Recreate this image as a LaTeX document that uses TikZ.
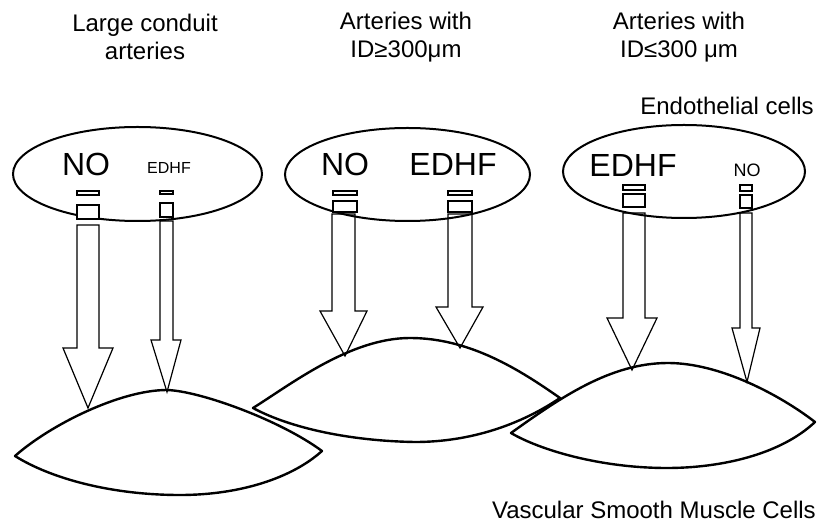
\documentclass[tikz,border=0pt]{standalone}
\usepackage{fontspec}
\setmainfont{Liberation Sans}
\usetikzlibrary{shapes.geometric}
\begin{document}
\begin{tikzpicture}[x=0.75pt,y=-0.75pt,
  endo/.style={draw, line width=1.5pt, ellipse, inner sep=0pt},
  cellline/.style={draw, line width=1.8pt, line join=round},
  blk/.style={draw, line width=0.9pt, line join=miter},
  barbox/.style={draw, line width=0.9pt, fill=white},
  ttl/.style={align=center, inner sep=0pt, font=\fontsize{18}{20.5}\selectfont},
  lbl/.style={inner sep=0pt, font=\fontsize{18}{20}\selectfont},
  bigm/.style={inner sep=0pt, font=\fontsize{24}{28}\selectfont},
  smallm/.style={inner sep=0pt, font=\fontsize{12}{14}\selectfont}]
\useasboundingbox (0,0) rectangle (817,523);

% titles
\node[ttl] (t1) at (145,37) {Large conduit\\arteries};
\node[ttl] (t2) at (406,37) {Arteries with\\ID≥300μm};
\node[ttl] (t3) at (679,37) {Arteries with\\ID≤300 μm};
\node[lbl, anchor=east] (endolbl) at (814,106) {Endothelial cells};
\node[lbl, anchor=east] (vsmclbl) at (816,510) {Vascular Smooth Muscle Cells};

% endothelial cells
\node[endo, minimum width=186.75pt, minimum height=70.5pt] (e1) at (137.5,174) {};
\node[endo, minimum width=183.75pt, minimum height=69.75pt] (e2) at (407.5,174.5) {};
\node[endo, minimum width=181.5pt, minimum height=69.75pt] (e3) at (684,171.5) {};

% labels in the cells
\node[bigm] (no1) at (86,164) {NO};
\node[smallm] (edhf1) at (169,168) {EDHF};
\node[bigm] (no2) at (345,164) {NO};
\node[bigm] (edhf2) at (453,164) {EDHF};
\node[bigm] (edhf3) at (633,165) {EDHF};
\node[inner sep=0pt, font=\fontsize{13.5}{16}\selectfont] (no3) at (747,170) {NO};

% receptor bars
\draw[barbox] (77,191) rectangle (99,195);
\draw[barbox] (77,205) rectangle (99,219);
\draw[barbox] (160,191) rectangle (173,194);
\draw[barbox] (160,203) rectangle (173,217);
\draw[barbox] (333,191) rectangle (357,195);
\draw[barbox] (333,201) rectangle (357,212);
\draw[barbox] (448,191) rectangle (472,195);
\draw[barbox] (448,201) rectangle (472,212);
\draw[barbox] (623,185) rectangle (645,190);
\draw[barbox] (623,194) rectangle (645,207);
\draw[barbox] (740,185) rectangle (752,191);
\draw[barbox] (740,195) rectangle (752,208);

% smooth muscle cells
\draw[cellline] (15,456) .. controls (50,425) and (120,390) .. (167,390)
  .. controls (200,391) and (280,420) .. (322,451)
  .. controls (292,478) and (240,495) .. (180,495)
  .. controls (110,495) and (50,478) .. (15,456) -- cycle;
\draw[cellline] (253,408) .. controls (290,385) and (350,338) .. (410,338)
  .. controls (470,338) and (520,370) .. (560,398)
  .. controls (520,425) and (470,442) .. (415,442)
  .. controls (350,441) and (290,428) .. (253,408) -- cycle;
\draw[cellline] (511,433) .. controls (560,398) and (610,363) .. (668,363)
  .. controls (720,363) and (780,395) .. (815,422)
  .. controls (780,455) and (720,468) .. (667,468)
  .. controls (600,468) and (540,450) .. (511,433) -- cycle;

% block arrows
\draw[blk] (77,225) -- (99,225) -- (99,348) -- (113,348) -- (88,408) -- (63,348) -- (77,348) -- cycle;
\draw[blk] (160,221) -- (173,221) -- (173,340) -- (181,340) -- (167,392) -- (151,340) -- (160,340) -- cycle;
\draw[blk] (332,214) -- (355,214) -- (355,311) -- (367,311) -- (345,356) -- (320,311) -- (332,311) -- cycle;
\draw[blk] (448,214) -- (472,214) -- (472,307) -- (483,307) -- (460,348) -- (436,307) -- (448,307) -- cycle;
\draw[blk] (623,213) -- (645,213) -- (645,318) -- (657,318) -- (632,370) -- (607,318) -- (623,318) -- cycle;
\draw[blk] (740,213) -- (752,213) -- (752,328) -- (760,328) -- (747,382) -- (732,328) -- (740,328) -- cycle;
\end{tikzpicture}
\end{document}
